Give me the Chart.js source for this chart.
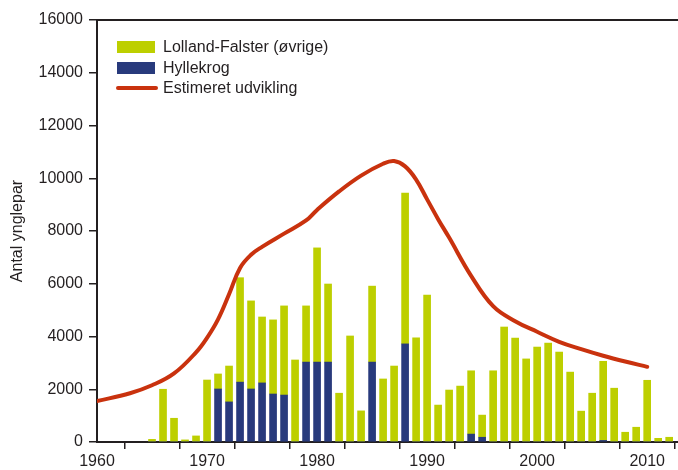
<!DOCTYPE html>
<html>
<head>
<meta charset="utf-8">
<script src="https://cdn.jsdelivr.net/npm/chart.js@4"></script>
<style>
  html, body { margin: 0; padding: 0; background: #fff; }
  canvas { display: block; }
</style>
</head>
<body>
<canvas id="graf" width="678" height="470"></canvas>
<script>
// ── DATA ──────────────────────────────────────────────
const aar = [1965, 1966, 1967, 1968, 1969, 1970, 1971, 1972, 1973, 1974, 1975, 1976, 1977, 1978, 1979,
  1980, 1981, 1982, 1983, 1984, 1985, 1986, 1987, 1988, 1989, 1990, 1991, 1992, 1993, 1994,
  1995, 1996, 1997, 1998, 1999, 2000, 2001, 2002, 2003, 2004, 2005, 2006, 2007, 2008, 2009,
  2010, 2011, 2012];

// Hyllekrog (nederste del af søjlen)
const hyllekrog = [0, 0, 0, 0, 0, 0, 2010, 1520, 2270, 2010, 2240, 1820, 1780, 0, 3030,
  3030, 3030, 0, 0, 0, 3030, 0, 0, 3720, 0, 0, 0, 0, 0, 300,
  180, 0, 0, 0, 0, 0, 0, 0, 0, 0, 0, 60, 0, 0, 0,
  0, 0, 0];

// Lolland-Falster (øvrige), lagt oven på Hyllekrog
const lollandFalster = [100, 2000, 900, 80, 230, 2350, 570, 1360, 3960, 3340, 2500, 2810, 3380, 3110, 2130,
  4330, 2960, 1850, 4020, 1180, 2880, 2390, 2880, 5720, 3950, 5570, 1400, 1970, 2120, 2400,
  840, 2700, 4360, 3940, 3150, 3600, 3750, 3410, 2650, 1170, 1850, 3000, 2040, 370, 560,
  2340, 140, 180];

// Estimeret udvikling
const estimatAar = [1960, 1963, 1965, 1967, 1969, 1970, 1971, 1972, 1973, 1974, 1975, 1977, 1979, 1980,
  1982, 1984, 1986, 1987, 1988, 1989, 1990, 1991, 1992, 1994, 1996, 1998, 2000, 2002, 2004,
  2006, 2008, 2010];
const estimat = [1550, 1850, 2150, 2600, 3400, 3950, 4650, 5600, 6600, 7100, 7400, 7900, 8400, 8800,
  9500, 10100, 10550, 10650, 10450, 9950, 9200, 8450, 7750, 6300, 5150, 4580, 4180, 3800, 3520,
  3270, 3050, 2850];

const yTicks = [0, 2000, 4000, 6000, 8000, 10000, 12000, 14000, 16000];
const xLabels = [1960, 1970, 1980, 1990, 2000, 2010];

const GRON = "#bdcf00";
const BLA = "#283a7c";
const ROD = "#c9320e";
const TEKST = "#231f20";
const FONT = "'Liberation Sans', Arial, sans-serif";

// ── PLUGINS ───────────────────────────────────────────

// Øverste ramme + forklaring inde i plottet
const rammeOgForklaring = {
  id: "rammeOgForklaring",
  afterDraw(chart) {
    const { ctx, chartArea } = chart;
    ctx.save();
    ctx.strokeStyle = TEKST;
    ctx.lineWidth = 2;
    ctx.beginPath();
    ctx.moveTo(chartArea.left, chartArea.top);
    ctx.lineTo(chartArea.right, chartArea.top);
    ctx.stroke();

    const x = chartArea.left + 20;
    const poster = [
      { tekst: chart.data.datasets[1].label, farve: GRON, type: "box", y: chartArea.top + 27 },
      { tekst: chart.data.datasets[0].label, farve: BLA, type: "box", y: chartArea.top + 48 },
      { tekst: chart.data.datasets[2].label, farve: ROD, type: "line", y: chartArea.top + 68 },
    ];
    ctx.font = "16px " + FONT;
    ctx.textBaseline = "middle";
    poster.forEach(p => {
      if (p.type === "box") {
        ctx.fillStyle = p.farve;
        ctx.fillRect(x, p.y - 6, 38, 12);
      } else {
        ctx.strokeStyle = p.farve;
        ctx.lineWidth = 4;
        ctx.lineCap = "round";
        ctx.beginPath();
        ctx.moveTo(x + 1, p.y);
        ctx.lineTo(x + 39, p.y);
        ctx.stroke();
      }
      ctx.fillStyle = TEKST;
      ctx.fillText(p.tekst, x + 46, p.y + 1);
    });
    ctx.restore();
  }
};

// ── GRAF ──────────────────────────────────────────────

const ctx = document.getElementById("graf").getContext("2d");
new Chart(ctx, {
  type: "bar",
  data: {
    datasets: [
      {
        label: "Hyllekrog",
        data: aar.map((a, i) => ({ x: a, y: hyllekrog[i] })),
        backgroundColor: BLA,
        barThickness: 7,
        order: 2,
      },
      {
        label: "Lolland-Falster (øvrige)",
        data: aar.map((a, i) => ({ x: a, y: lollandFalster[i] })),
        backgroundColor: GRON,
        barThickness: 7,
        order: 2,
      },
      {
        type: "line",
        label: "Estimeret udvikling",
        data: estimatAar.map((a, i) => ({ x: a, y: estimat[i] })),
        borderColor: ROD,
        borderWidth: 4,
        pointRadius: 0,
        fill: false,
        tension: 0.4,
        borderCapStyle: "round",
        borderJoinStyle: "round",
        order: 1,
      },
    ],
  },
  options: {
    responsive: false,
    animation: false,
    layout: { padding: { top: 20, right: 0, left: 0, bottom: 0 } },
    plugins: {
      legend: { display: false },
      tooltip: { enabled: false },
    },
    scales: {
      x: {
        type: "linear",
        stacked: true,
        min: 1960,
        max: 2012.8,
        offset: false,
        grid: { drawOnChartArea: false, drawTicks: true, tickLength: 7, color: TEKST, lineWidth: 1.5 },
        border: { color: TEKST, width: 2 },
        ticks: {
          stepSize: 5,
          includeBounds: false,
          autoSkip: false,
          maxRotation: 0,
          padding: 3,
          color: TEKST,
          font: { family: FONT, size: 16 },
          callback: v => (xLabels.includes(v) ? String(v) : ""),
        },
        afterFit: s => { s.height = 28; },
      },
      y: {
        stacked: true,
        min: 0,
        max: 16000,
        grid: { drawOnChartArea: false, drawTicks: true, tickLength: 8, color: TEKST, lineWidth: 1.5 },
        border: { color: TEKST, width: 2 },
        afterBuildTicks: s => { s.ticks = yTicks.map(v => ({ value: v })); },
        ticks: {
          padding: 6,
          color: TEKST,
          font: { family: FONT, size: 16 },
          callback: v => String(v),
        },
        title: {
          display: true,
          text: "Antal ynglepar",
          color: TEKST,
          font: { family: FONT, size: 16 },
          padding: { top: 8, bottom: 0 },
        },
        afterFit: s => { s.width = 97; },
      },
    },
  },
  plugins: [rammeOgForklaring],
});
</script>
</body>
</html>
